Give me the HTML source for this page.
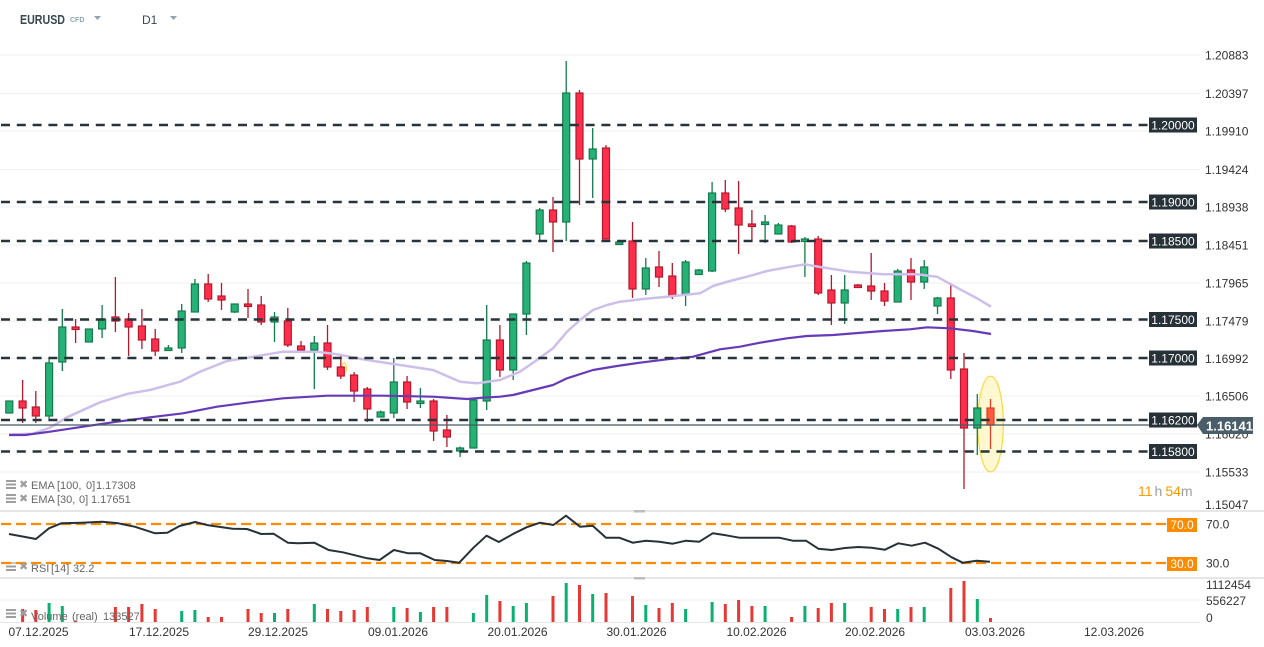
<!DOCTYPE html>
<html><head><meta charset="utf-8"><style>
html,body{margin:0;padding:0;background:#fff;}
svg{display:block;font-family:"Liberation Sans",sans-serif;}
.g{fill:#26b276;stroke:#147a4c;stroke-width:1.2}
.r{fill:#ff2e4c;stroke:#b3182c;stroke-width:1.2}
.o{fill:#ff5a3c;stroke:#d8402a;stroke-width:1.2}
.wg{stroke:#147a4c;stroke-width:1.3}
.wr{stroke:#b3182c;stroke-width:1.3}
.wo{stroke:#d8402a;stroke-width:1.3}
.gl{stroke:#efefef;stroke-width:1}
.lv{stroke:#27343b;stroke-width:2.5;stroke-dasharray:9 6.8}
.ax{font-size:12px;fill:#333}
.lb{font-size:12px;fill:#fff;text-anchor:middle}
.lg{font-size:11px;fill:#666}
.vg{fill:#0bb070}.vr{fill:#e53935}
</style></head><body>
<svg width="1264" height="647" viewBox="0 0 1264 647" xmlns="http://www.w3.org/2000/svg">
<!-- header -->
<text x="20" y="24" font-size="13" font-weight="bold" fill="#37474f" textLength="45" lengthAdjust="spacingAndGlyphs">EURUSD</text>
<text x="70" y="22" font-size="7" font-weight="bold" fill="#90a4ae">CFD</text>
<polygon points="94,16 101,16 97.5,20" fill="#90a4ae"/>
<text x="142" y="24" font-size="12" fill="#37474f">D1</text>
<polygon points="170,16 177,16 173.5,20" fill="#90a4ae"/>

<!-- main grid -->
<g class="gl">
<line x1="0" x2="1200" y1="55" y2="55"/><line x1="0" x2="1200" y1="93.5" y2="93.5"/>
<line x1="0" x2="1200" y1="131" y2="131"/><line x1="0" x2="1200" y1="169.5" y2="169.5"/>
<line x1="0" x2="1200" y1="207" y2="207"/><line x1="0" x2="1200" y1="245" y2="245"/>
<line x1="0" x2="1200" y1="283" y2="283"/><line x1="0" x2="1200" y1="321" y2="321"/>
<line x1="0" x2="1200" y1="358.5" y2="358.5"/><line x1="0" x2="1200" y1="396" y2="396"/>
<line x1="0" x2="1200" y1="434" y2="434"/><line x1="0" x2="1200" y1="472" y2="472"/>
</g>

<!-- highlight ellipse -->
<ellipse cx="990.5" cy="424" rx="12.8" ry="47.8" fill="#fff6c4" fill-opacity="0.8" stroke="#ffd740" stroke-width="1.2"/>
<ellipse cx="344" cy="368" rx="2.5" ry="5" fill="none" stroke="#ffd740" stroke-width="1.2"/>

<!-- candles -->
<line class="wg" x1="9.3" x2="9.3" y1="401" y2="413"/><rect class="g" x="5.8" y="401" width="7" height="12"/>
<line class="wr" x1="22.6" x2="22.6" y1="380" y2="423"/><rect class="r" x="19.1" y="401" width="7" height="7"/>
<line class="wr" x1="35.8" x2="35.8" y1="391" y2="423"/><rect class="r" x="32.3" y="407" width="7" height="9"/>
<line class="wg" x1="49.1" x2="49.1" y1="359" y2="419"/><rect class="g" x="45.6" y="363" width="7" height="53"/>
<line class="wg" x1="62.3" x2="62.3" y1="309" y2="371"/><rect class="g" x="58.8" y="327" width="7" height="35"/>
<line class="wr" x1="75.6" x2="75.6" y1="319" y2="343"/><rect class="r" x="72.1" y="327" width="7" height="2.5"/>
<line class="wg" x1="88.9" x2="88.9" y1="329" y2="342"/><rect class="g" x="85.4" y="329" width="7" height="13"/>
<line class="wg" x1="102.1" x2="102.1" y1="305" y2="338"/><rect class="g" x="98.6" y="319" width="7" height="10"/>
<line class="wr" x1="115.4" x2="115.4" y1="277" y2="332"/><rect class="r" x="111.9" y="317" width="7" height="4"/>
<line class="wr" x1="128.6" x2="128.6" y1="313" y2="356"/><rect class="r" x="125.1" y="319" width="7" height="8"/>
<line class="wr" x1="141.9" x2="141.9" y1="309" y2="349"/><rect class="r" x="138.4" y="326" width="7" height="14"/>
<line class="wr" x1="155.2" x2="155.2" y1="329" y2="356"/><rect class="r" x="151.7" y="339" width="7" height="12"/>
<line class="wg" x1="168.4" x2="168.4" y1="345" y2="350.5"/><rect class="g" x="164.9" y="348" width="7" height="2.5"/>
<line class="wg" x1="181.7" x2="181.7" y1="304" y2="353"/><rect class="g" x="178.2" y="311" width="7" height="37"/>
<line class="wg" x1="194.9" x2="194.9" y1="279" y2="312"/><rect class="g" x="191.4" y="284" width="7" height="28"/>
<line class="wr" x1="208.2" x2="208.2" y1="274" y2="302"/><rect class="r" x="204.7" y="284" width="7" height="15"/>
<line class="wr" x1="221.5" x2="221.5" y1="283" y2="310"/><rect class="r" x="218" y="296" width="7" height="4"/>
<line class="wg" x1="234.7" x2="234.7" y1="304" y2="313"/><rect class="g" x="231.2" y="304" width="7" height="8"/>
<line class="wr" x1="248" x2="248" y1="289" y2="318"/><rect class="r" x="244.5" y="304" width="7" height="2.5"/>
<line class="wr" x1="261.2" x2="261.2" y1="296" y2="325"/><rect class="r" x="257.7" y="305" width="7" height="17"/>
<line class="wg" x1="274.5" x2="274.5" y1="312" y2="342"/><rect class="g" x="271" y="317" width="7" height="5"/>
<line class="wr" x1="287.8" x2="287.8" y1="308" y2="347"/><rect class="r" x="284.3" y="321" width="7" height="24"/>
<line class="wr" x1="301" x2="301" y1="341" y2="350"/><rect class="r" x="297.5" y="346" width="7" height="4"/>
<line class="wg" x1="314.3" x2="314.3" y1="336" y2="389"/><rect class="g" x="310.8" y="343" width="7" height="7"/>
<line class="wr" x1="327.5" x2="327.5" y1="325" y2="370"/><rect class="r" x="324" y="343" width="7" height="24"/>
<line class="wr" x1="340.8" x2="340.8" y1="356" y2="379"/><rect class="r" x="337.3" y="367" width="7" height="9"/>
<line class="wr" x1="354.1" x2="354.1" y1="372" y2="402"/><rect class="r" x="350.6" y="375" width="7" height="16"/>
<line class="wr" x1="367.3" x2="367.3" y1="387" y2="422"/><rect class="r" x="363.8" y="389" width="7" height="20"/>
<line class="wg" x1="380.6" x2="380.6" y1="410.5" y2="417"/><rect class="g" x="377.1" y="412" width="7" height="5"/>
<line class="wg" x1="393.8" x2="393.8" y1="358" y2="418"/><rect class="g" x="390.3" y="382" width="7" height="31"/>
<line class="wr" x1="407.1" x2="407.1" y1="376" y2="409"/><rect class="r" x="403.6" y="382" width="7" height="20"/>
<line class="wg" x1="420.4" x2="420.4" y1="388" y2="408"/><rect class="g" x="416.9" y="401" width="7" height="2.5"/>
<line class="wr" x1="433.6" x2="433.6" y1="399" y2="441"/><rect class="r" x="430.1" y="401" width="7" height="30"/>
<line class="wr" x1="446.9" x2="446.9" y1="415" y2="447"/><rect class="r" x="443.4" y="430" width="7" height="7"/>
<line class="wg" x1="460.1" x2="460.1" y1="446.5" y2="457"/><rect class="g" x="456.6" y="448" width="7" height="3"/>
<line class="wg" x1="473.4" x2="473.4" y1="400" y2="448"/><rect class="g" x="469.9" y="400" width="7" height="48"/>
<line class="wg" x1="486.7" x2="486.7" y1="305" y2="410"/><rect class="g" x="483.2" y="340" width="7" height="61"/>
<line class="wr" x1="499.9" x2="499.9" y1="325" y2="377"/><rect class="r" x="496.4" y="340" width="7" height="30"/>
<line class="wg" x1="513.2" x2="513.2" y1="314" y2="380"/><rect class="g" x="509.7" y="314" width="7" height="56"/>
<line class="wg" x1="526.4" x2="526.4" y1="261" y2="335"/><rect class="g" x="522.9" y="263" width="7" height="51"/>
<line class="wg" x1="539.7" x2="539.7" y1="208" y2="242"/><rect class="g" x="536.2" y="210" width="7" height="24"/>
<line class="wr" x1="553" x2="553" y1="197" y2="252"/><rect class="r" x="549.5" y="210" width="7" height="12"/>
<line class="wg" x1="566.2" x2="566.2" y1="61" y2="241"/><rect class="g" x="562.7" y="93" width="7" height="129"/>
<line class="wr" x1="579.5" x2="579.5" y1="90" y2="205"/><rect class="r" x="576" y="93" width="7" height="66"/>
<line class="wg" x1="592.7" x2="592.7" y1="128" y2="198"/><rect class="g" x="589.2" y="149" width="7" height="10"/>
<line class="wr" x1="606" x2="606" y1="145" y2="239"/><rect class="r" x="602.5" y="148" width="7" height="91"/>
<line class="wg" x1="619.3" x2="619.3" y1="240" y2="245"/><rect class="g" x="615.8" y="242" width="7" height="2.5"/>
<line class="wr" x1="632.5" x2="632.5" y1="222" y2="298"/><rect class="r" x="629" y="241" width="7" height="48"/>
<line class="wg" x1="645.8" x2="645.8" y1="258" y2="295"/><rect class="g" x="642.3" y="268" width="7" height="21"/>
<line class="wr" x1="659" x2="659" y1="251" y2="287"/><rect class="r" x="655.5" y="267" width="7" height="10"/>
<line class="wr" x1="672.3" x2="672.3" y1="263" y2="299"/><rect class="r" x="668.8" y="276" width="7" height="20"/>
<line class="wg" x1="685.6" x2="685.6" y1="260" y2="306"/><rect class="g" x="682.1" y="262" width="7" height="32"/>
<line class="wg" x1="698.8" x2="698.8" y1="269" y2="274.5"/><rect class="g" x="695.3" y="270" width="7" height="4.5"/>
<line class="wg" x1="712.1" x2="712.1" y1="182" y2="272"/><rect class="g" x="708.6" y="193" width="7" height="78"/>
<line class="wr" x1="725.3" x2="725.3" y1="180" y2="212"/><rect class="r" x="721.8" y="193" width="7" height="16"/>
<line class="wr" x1="738.6" x2="738.6" y1="181" y2="254"/><rect class="r" x="735.1" y="208" width="7" height="17"/>
<line class="wr" x1="751.9" x2="751.9" y1="210" y2="240"/><rect class="r" x="748.4" y="224" width="7" height="2.5"/>
<line class="wg" x1="765.1" x2="765.1" y1="215" y2="243"/><rect class="g" x="761.6" y="222" width="7" height="2.5"/>
<line class="wg" x1="778.4" x2="778.4" y1="223" y2="234"/><rect class="g" x="774.9" y="225" width="7" height="9"/>
<line class="wr" x1="791.6" x2="791.6" y1="225" y2="243"/><rect class="r" x="788.1" y="226" width="7" height="16"/>
<line class="wg" x1="804.9" x2="804.9" y1="237" y2="277"/><rect class="g" x="801.4" y="239" width="7" height="2.5"/>
<line class="wr" x1="818.2" x2="818.2" y1="236" y2="295"/><rect class="r" x="814.7" y="239" width="7" height="54"/>
<line class="wr" x1="831.4" x2="831.4" y1="275" y2="325"/><rect class="r" x="827.9" y="290" width="7" height="13"/>
<line class="wg" x1="844.7" x2="844.7" y1="275" y2="324"/><rect class="g" x="841.2" y="290" width="7" height="13"/>
<line class="wr" x1="857.9" x2="857.9" y1="284" y2="287.5"/><rect class="r" x="854.4" y="285" width="7" height="2.5"/>
<line class="wr" x1="871.2" x2="871.2" y1="253" y2="300"/><rect class="r" x="867.7" y="286" width="7" height="5"/>
<line class="wr" x1="884.5" x2="884.5" y1="283" y2="306"/><rect class="r" x="881" y="291" width="7" height="10"/>
<line class="wg" x1="897.7" x2="897.7" y1="269" y2="302"/><rect class="g" x="894.2" y="271" width="7" height="31"/>
<line class="wr" x1="911" x2="911" y1="258" y2="300"/><rect class="r" x="907.5" y="270" width="7" height="12"/>
<line class="wg" x1="924.2" x2="924.2" y1="260" y2="289"/><rect class="g" x="920.7" y="267" width="7" height="15"/>
<line class="wg" x1="937.5" x2="937.5" y1="297" y2="314"/><rect class="g" x="934" y="298" width="7" height="8"/>
<line class="wr" x1="950.8" x2="950.8" y1="283" y2="379"/><rect class="r" x="947.3" y="298" width="7" height="72"/>
<line class="wr" x1="964" x2="964" y1="353" y2="489"/><rect class="r" x="960.5" y="369" width="7" height="59"/>
<line class="wg" x1="977.3" x2="977.3" y1="394" y2="455"/><rect class="g" x="973.8" y="408" width="7" height="20"/>
<line class="wo" x1="990.5" x2="990.5" y1="399" y2="449"/><rect class="o" x="987" y="408" width="7" height="17"/>

<!-- EMAs -->
<path fill="none" stroke="#cdbfe9" stroke-width="2.5" stroke-linejoin="round" d="M9,434.5 L33,433.7 L50,427.7 L67,417.3 L100,402.3 L128,393.7 L150,390 L180,381.7 L200,371.7 L227,361 L250,357.3 L283,351.7 L317,351.7 L337,354.3 L367,360 L400,365 L433,370 L460,381.7 L477,383.3 L500,380 L520,371.7 L537,360 L553,348.3 L567,331.7 L580,320 L593,310 L607,305 L620,301.7 L643,299 L667,296.7 L683,295 L700,293.3 L713,286 L730,281 L747,276.7 L767,271 L787,267.3 L805,264.3 L820,267 L850,271.7 L883,274.3 L917,274.3 L937,276.7 L960,289.3 L977,298.3 L991,306.7"/>
<path fill="none" stroke="#673ab7" stroke-width="2.2" stroke-linejoin="round" d="M9,435 L25,435 L50,431.7 L83,426.7 L117,421.7 L150,417.3 L183,413.3 L217,406.7 L250,402.3 L283,398.3 L327,395.7 L383,395.7 L433,396.7 L467,399 L483,397.7 L500,396.7 L513,395 L533,390 L553,385 L567,378.3 L593,370 L617,366 L640,362.7 L667,359.3 L693,356.7 L720,349.3 L740,346.7 L760,342.7 L787,338.3 L807,336 L833,335 L883,331 L910,329.3 L927,327.3 L950,328.3 L973,331 L991,334"/>

<!-- levels -->
<g class="lv">
<line x1="1" x2="1148" y1="125" y2="125"/>
<line x1="1" x2="1148" y1="202" y2="202"/>
<line x1="1" x2="1148" y1="241" y2="241"/>
<line x1="1" x2="1148" y1="319.5" y2="319.5"/>
<line x1="1" x2="1148" y1="358" y2="358"/>
<line x1="1" x2="1148" y1="420" y2="420"/>
<line x1="1" x2="1148" y1="451.5" y2="451.5"/>
</g>
<line x1="0" x2="1198" y1="425" y2="425" stroke="#455a64" stroke-width="1.3"/>

<!-- axis labels -->
<g class="ax">
<text x="1205" y="59.5">1.20883</text><text x="1205" y="98">1.20397</text>
<text x="1205" y="135.5">1.19910</text><text x="1205" y="174">1.19424</text>
<text x="1205" y="211.5">1.18938</text><text x="1205" y="249.5">1.18451</text>
<text x="1205" y="287.5">1.17965</text><text x="1205" y="325.5">1.17479</text>
<text x="1205" y="363">1.16992</text><text x="1205" y="400.5">1.16506</text>
<text x="1205" y="438.5">1.16020</text><text x="1205" y="476.5">1.15533</text>
<text x="1205" y="509">1.15047</text>
</g>
<g>
<rect x="1149" y="117.5" width="48" height="15" fill="#263238"/><text class="lb" x="1173" y="129.5">1.20000</text>
<rect x="1149" y="194.5" width="48" height="15" fill="#263238"/><text class="lb" x="1173" y="206.5">1.19000</text>
<rect x="1149" y="233.5" width="48" height="15" fill="#263238"/><text class="lb" x="1173" y="245.5">1.18500</text>
<rect x="1149" y="312" width="48" height="15" fill="#263238"/><text class="lb" x="1173" y="324">1.17500</text>
<rect x="1149" y="350.5" width="48" height="15" fill="#263238"/><text class="lb" x="1173" y="362.5">1.17000</text>
<rect x="1149" y="412.5" width="48" height="15" fill="#263238"/><text class="lb" x="1173" y="424.5">1.16200</text>
<rect x="1149" y="444" width="48" height="15" fill="#263238"/><text class="lb" x="1173" y="456">1.15800</text>
</g>
<polygon points="1197,425 1203,417 1253,417 1253,434 1203,434" fill="#4a5e69"/>
<text x="1206" y="430.5" font-size="13" font-weight="bold" fill="#fff">1.16141</text>

<text x="1138" y="496" font-size="14"><tspan fill="#ff9800">11</tspan><tspan fill="#9e9e9e" dx="2">h</tspan><tspan fill="#ff9800" dx="3">54</tspan><tspan fill="#9e9e9e">m</tspan></text>

<!-- legend EMA -->
<g fill="#9e9e9e">
<rect x="6" y="480" width="10" height="2"/><rect x="6" y="483.5" width="10" height="2"/><rect x="6" y="487" width="10" height="2"/>
<rect x="6" y="494" width="10" height="2"/><rect x="6" y="497.5" width="10" height="2"/><rect x="6" y="501" width="10" height="2"/>
<rect x="6" y="562" width="10" height="2"/><rect x="6" y="565.5" width="10" height="2"/><rect x="6" y="569" width="10" height="2"/>
<rect x="6" y="609" width="10" height="2"/><rect x="6" y="612.5" width="10" height="2"/><rect x="6" y="616" width="10" height="2"/>
</g>
<g class="lg">
<text x="19" y="488" fill="#9e9e9e" font-size="11">✖</text>
<text x="31" y="489">EMA<tspan x="57">[100,</tspan><tspan x="86">0]</tspan><tspan x="96">1.17308</tspan></text>
<text x="19" y="502" fill="#9e9e9e" font-size="11">✖</text>
<text x="31" y="503">EMA<tspan x="57">[30,</tspan><tspan x="79">0]</tspan><tspan x="91">1.17651</tspan></text>
</g>

<!-- pane separators -->
<line x1="0" x2="1264" y1="511" y2="511" stroke="#d6d6d6" stroke-width="1.2"/>
<line x1="0" x2="1264" y1="578" y2="578" stroke="#d6d6d6" stroke-width="1.2"/>
<rect x="634" y="510" width="11" height="2.5" fill="#bdbdbd"/>
<rect x="634" y="577" width="11" height="2.5" fill="#bdbdbd"/>

<!-- RSI -->
<line x1="0" x2="1200" y1="524" y2="524" class="gl"/>
<line x1="0" x2="1200" y1="563" y2="563" class="gl"/>
<g stroke="#fb8c00" stroke-width="2.2" stroke-dasharray="10 5">
<line x1="1" x2="1166" y1="524" y2="524"/>
<line x1="1" x2="1166" y1="563" y2="563"/>
</g>
<path fill="none" stroke="#263238" stroke-width="2" stroke-linejoin="round" d="M9,534 L22.6,536.5 L35.9,539 L49,528.3 L61.2,523.3 L81.6,522.7 L102,521.7 L118.4,523.3 L134.7,526.7 L155.1,533.3 L167.3,532.7 L179.6,526 L195.1,522 L208.2,525.3 L232.7,528.7 L247,529 L261.2,534 L273.5,533.7 L287.8,542.7 L298,543.3 L314.3,542.7 L328.6,550 L342.9,552.3 L367.3,558.3 L379.6,560 L393.9,550 L408.2,553.3 L420.4,553.3 L434.7,560 L447,561 L459.2,562.7 L473.5,547.7 L486.5,535.7 L498.8,542 L514.3,533.3 L526.5,527.3 L540,522.7 L553.3,525 L566,515.7 L580,526.7 L592.7,525.7 L606,537.7 L619.3,537.7 L632.7,542.7 L646,540.7 L659.3,541.7 L672.7,543.7 L686,540.7 L699.3,541.7 L712.7,533.3 L726,535.3 L739.3,537.7 L752.7,537.7 L766,537.7 L779.3,537.7 L792.7,540.7 L806,540.7 L818.3,548.7 L831.7,550 L845,548 L858.3,547 L871.7,547.7 L885,549.7 L898.3,543.3 L911.7,545.7 L925,542.7 L938.3,548.7 L951.7,557.3 L962.7,562.7 L976.7,560.7 L990,561.7"/>
<rect x="1167" y="518" width="30" height="14" fill="#fb8c00"/><text class="lb" x="1182" y="529">70.0</text>
<rect x="1167" y="557" width="30" height="14" fill="#fb8c00"/><text class="lb" x="1182" y="568">30.0</text>
<text class="ax" x="1206" y="528.5">70.0</text>
<text class="ax" x="1206" y="567.5">30.0</text>
<text x="19" y="570" fill="#9e9e9e" font-size="11">✖</text>
<text class="lg" x="31" y="572">RSI<tspan x="51">[14]</tspan><tspan x="73">32.2</tspan></text>

<!-- volume -->
<line x1="0" x2="1200" y1="600" y2="600" class="gl"/>
<line x1="0" x2="1200" y1="622.5" y2="622.5" stroke="#e6e6e6"/>
<g>
<rect class="vr" x="21.1" y="609" width="3" height="13"/>
<rect class="vr" x="34.3" y="610" width="3" height="12"/>
<rect class="vg" x="47.6" y="603" width="3" height="19"/>
<rect class="vg" x="60.8" y="606" width="3" height="16"/>
<rect class="vr" x="74.1" y="620.5" width="3" height="1.5"/>
<rect class="vr" x="113.9" y="607" width="3" height="15"/>
<rect class="vr" x="127.1" y="607" width="3" height="15"/>
<rect class="vr" x="140.4" y="604" width="3" height="18"/>
<rect class="vr" x="153.7" y="609" width="3" height="13"/>
<rect class="vg" x="180.2" y="611" width="3" height="11"/>
<rect class="vg" x="193.4" y="610" width="3" height="12"/>
<rect class="vr" x="206.7" y="617" width="3" height="5"/>
<rect class="vr" x="220" y="617" width="3" height="5"/>
<rect class="vr" x="246.5" y="609" width="3" height="13"/>
<rect class="vr" x="259.7" y="613" width="3" height="9"/>
<rect class="vg" x="273" y="613" width="3" height="9"/>
<rect class="vr" x="286.3" y="609" width="3" height="13"/>
<rect class="vg" x="312.8" y="604" width="3" height="18"/>
<rect class="vr" x="326" y="609" width="3" height="13"/>
<rect class="vr" x="339.3" y="611" width="3" height="11"/>
<rect class="vr" x="352.6" y="610" width="3" height="12"/>
<rect class="vr" x="365.8" y="607" width="3" height="15"/>
<rect class="vg" x="392.3" y="607" width="3" height="15"/>
<rect class="vr" x="405.6" y="608" width="3" height="14"/>
<rect class="vg" x="418.9" y="612" width="3" height="10"/>
<rect class="vr" x="432.1" y="607" width="3" height="15"/>
<rect class="vr" x="445.4" y="607" width="3" height="15"/>
<rect class="vg" x="471.9" y="613" width="3" height="9"/>
<rect class="vg" x="485.2" y="595" width="3" height="27"/>
<rect class="vr" x="498.4" y="601" width="3" height="21"/>
<rect class="vg" x="511.7" y="606" width="3" height="16"/>
<rect class="vg" x="524.9" y="603" width="3" height="19"/>
<rect class="vr" x="551.5" y="596" width="3" height="26"/>
<rect class="vg" x="564.7" y="583" width="3" height="39"/>
<rect class="vr" x="578" y="585" width="3" height="37"/>
<rect class="vg" x="591.2" y="594" width="3" height="28"/>
<rect class="vr" x="604.5" y="593" width="3" height="29"/>
<rect class="vr" x="631" y="596" width="3" height="26"/>
<rect class="vg" x="644.3" y="605" width="3" height="17"/>
<rect class="vr" x="657.5" y="608" width="3" height="14"/>
<rect class="vr" x="670.8" y="603" width="3" height="19"/>
<rect class="vg" x="684.1" y="609" width="3" height="13"/>
<rect class="vg" x="710.6" y="602" width="3" height="20"/>
<rect class="vr" x="723.8" y="604" width="3" height="18"/>
<rect class="vr" x="737.1" y="600" width="3" height="22"/>
<rect class="vr" x="750.4" y="606" width="3" height="16"/>
<rect class="vg" x="763.6" y="606" width="3" height="16"/>
<rect class="vr" x="790.1" y="617" width="3" height="5"/>
<rect class="vg" x="803.4" y="606" width="3" height="16"/>
<rect class="vr" x="816.7" y="608" width="3" height="14"/>
<rect class="vr" x="829.9" y="603" width="3" height="19"/>
<rect class="vg" x="843.2" y="603" width="3" height="19"/>
<rect class="vr" x="869.7" y="607" width="3" height="15"/>
<rect class="vr" x="883" y="609" width="3" height="13"/>
<rect class="vg" x="896.2" y="609" width="3" height="13"/>
<rect class="vr" x="909.5" y="607" width="3" height="15"/>
<rect class="vg" x="922.7" y="607" width="3" height="15"/>
<rect class="vr" x="949.3" y="588" width="3" height="34"/>
<rect class="vr" x="962.5" y="581" width="3" height="41"/>
<rect class="vg" x="975.8" y="599" width="3" height="23"/>
<rect class="vr" x="989" y="618" width="3" height="4"/>
</g>
<text class="ax" x="1206" y="589">1112454</text>
<text class="ax" x="1206" y="605">556227</text>
<text class="ax" x="1206" y="622">0</text>
<text x="19" y="617" fill="#9e9e9e" font-size="11">✖</text>
<text class="lg" x="31" y="620">Volume<tspan x="72">(real)</tspan><tspan x="103">133527</tspan></text>

<!-- dates -->
<g class="ax">
<text x="8.5" y="636">07.12.2025</text>
<text x="129" y="636">17.12.2025</text>
<text x="248" y="636">29.12.2025</text>
<text x="368" y="636">09.01.2026</text>
<text x="487.5" y="636">20.01.2026</text>
<text x="606.5" y="636">30.01.2026</text>
<text x="726.5" y="636">10.02.2026</text>
<text x="845" y="636">20.02.2026</text>
<text x="965" y="636">03.03.2026</text>
<text x="1084" y="636">12.03.2026</text>
</g>
</svg>
</body></html>
